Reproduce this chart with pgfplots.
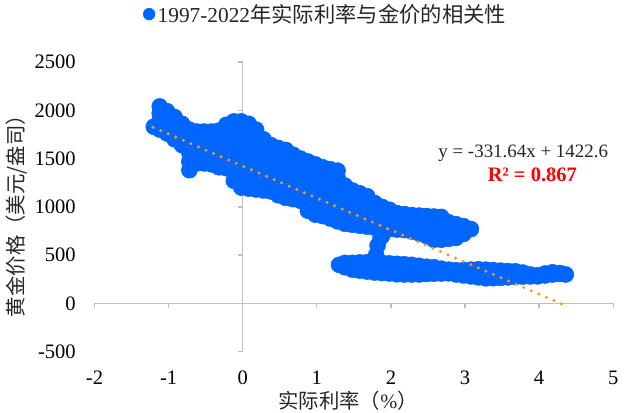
\documentclass[border=0pt]{standalone}
\usepackage{pgfplots}
\pgfplotsset{compat=1.18}
\usepackage{fontspec}
\setmainfont{Liberation Serif}
\newfontfamily\cjk{Noto Sans CJK SC}
\definecolor{ptblue}{HTML}{0066FF}
\definecolor{trendor}{HTML}{FF9900}
\definecolor{axgray}{HTML}{BFBFBF}
\definecolor{txt}{HTML}{262626}

\begin{document}
\begin{tikzpicture}
\pgfplotsset{base/.style={scale only axis, width=389pt, height=217.3pt,
  xmin=-2, xmax=5, ymin=-500, ymax=2500,
  xtick={-2,-1,0,1,2,3,4,5}, ytick={-500,0,500,1000,1500,2000,2500}}}
% middle axis lines with ticks
\begin{axis}[base, axis lines=middle, axis line style={axgray, line width=1pt, -},
  tick style={axgray, line width=1pt}, major tick length=3.75pt, tick align=outside,
  xticklabel={\relax}, yticklabel={\relax}, tick label style={text opacity=0}]
\end{axis}
% main axis with data and labels
\begin{axis}[base, axis line style={draw=none}, major tick length=0pt, clip marker paths=true,
  tick label style={font=\fontsize{15.4}{18}\selectfont, inner sep=0pt, text=black},
  /pgf/number format/assume math mode=true, /pgf/number format/1000 sep={},
  yticklabel style={xshift=-13.9pt}, xticklabel style={yshift=-14pt},
  xlabel={{\cjk 实际利率（}\%{\cjk ）}},
  ylabel={{\cjk 黄金价格（美元/盎司）}},
  xlabel style={at={(axis description cs:0.4888,-0.1357)}, anchor=north, inner sep=0pt, font=\fontsize{15.3}{18}\selectfont, text=txt},
  ylabel style={at={(axis description cs:-0.1504,0.4857)}, anchor=center, font=\fontsize{15.3}{18}\selectfont, text=txt},
  legend style={at={(axis description cs:0.4464,1.1653)}, anchor=center, draw=none, fill=none,
    font=\fontsize{16}{19}\selectfont, text=txt, inner sep=0pt},
  legend image code/.code={\draw[#1,mark size=4.4pt] plot coordinates {(0pt,0pt)};},
]
\addplot[only marks, mark=*, mark size=6pt, color=ptblue, mark options={draw=ptblue, fill=ptblue}] coordinates {
(-1.20,1830)
(-1.12,1800)(-1.12,1890)(-1.12,1970)(-1.12,2040)
(-1.02,1760)(-1.02,1840)(-1.02,1920)(-1.02,1990)
(-0.92,1700)(-0.92,1780)(-0.92,1860)(-0.92,1930)
(-0.82,1640)(-0.82,1720)(-0.82,1800)(-0.82,1860)
(-0.72,1380)(-0.72,1470)(-0.72,1560)(-0.72,1650)(-0.72,1740)(-0.72,1800)
(-0.62,1450)(-0.62,1540)(-0.62,1620)(-0.62,1700)(-0.62,1780)
(-0.52,1450)(-0.52,1540)(-0.52,1620)(-0.52,1700)(-0.52,1780)
(-0.42,1440)(-0.42,1530)(-0.42,1610)(-0.42,1700)(-0.42,1780)
(-0.32,1410)(-0.32,1500)(-0.32,1590)(-0.32,1680)(-0.32,1790)
(-0.22,1400)(-0.22,1490)(-0.22,1580)(-0.22,1670)(-0.22,1760)(-0.22,1850)
(-0.12,1270)(-0.12,1360)(-0.12,1450)(-0.12,1540)(-0.12,1630)(-0.12,1720)(-0.12,1810)(-0.12,1885)
(-0.02,1200)(-0.02,1290)(-0.02,1380)(-0.02,1470)(-0.02,1560)(-0.02,1650)(-0.02,1740)(-0.02,1820)(-0.02,1885)
(0.08,1190)(0.08,1280)(0.08,1370)(0.08,1460)(0.08,1550)(0.08,1640)(0.08,1730)(0.08,1820)(0.08,1860)
(0.18,1180)(0.18,1270)(0.18,1360)(0.18,1450)(0.18,1540)(0.18,1630)(0.18,1720)(0.18,1800)
(0.28,1170)(0.28,1260)(0.28,1350)(0.28,1440)(0.28,1530)(0.28,1620)(0.28,1700)
(0.38,1160)(0.38,1250)(0.38,1340)(0.38,1430)(0.38,1520)(0.38,1600)(0.38,1640)
(0.48,1120)(0.48,1210)(0.48,1300)(0.48,1390)(0.48,1480)(0.48,1560)(0.48,1610)
(0.58,1094)(0.58,1180)(0.58,1270)(0.58,1360)(0.58,1450)(0.58,1530)(0.58,1590)
(0.68,1080)(0.68,1170)(0.68,1260)(0.68,1350)(0.68,1440)(0.68,1540)
(0.78,1063)(0.78,1150)(0.78,1240)(0.78,1330)(0.78,1420)(0.78,1500)
(0.88,960)(0.88,1050)(0.88,1140)(0.88,1230)(0.88,1320)(0.88,1400)(0.88,1470)
(0.98,920)(0.98,1010)(0.98,1100)(0.98,1190)(0.98,1280)(0.98,1370)(0.98,1440)
(1.08,905)(1.08,990)(1.08,1080)(1.08,1170)(1.08,1260)(1.08,1340)(1.08,1410)
(1.18,880)(1.18,970)(1.18,1060)(1.18,1150)(1.18,1240)(1.18,1320)(1.18,1390)
(1.28,850)(1.28,940)(1.28,1030)(1.28,1120)(1.28,1210)(1.28,1300)(1.28,1375)
(1.38,825)(1.38,910)(1.38,1000)(1.38,1090)(1.38,1180)(1.38,1220)
(1.48,815)(1.48,900)(1.48,990)(1.48,1080)(1.48,1170)
(1.58,805)(1.58,890)(1.58,980)(1.58,1070)(1.58,1140)
(1.68,795)(1.68,880)(1.68,970)(1.68,1050)(1.68,1110)
(1.78,785)(1.78,870)(1.78,960)(1.78,1040)
(1.88,700)(1.88,775)(1.88,860)(1.88,940)(1.88,1000)
(1.98,770)(1.98,850)(1.98,930)(1.98,970)
(2.08,765)(2.08,845)(2.08,935)
(2.18,760)(2.18,840)(2.18,925)
(2.28,745)(2.28,830)(2.28,915)
(2.38,725)(2.38,810)(2.38,910)
(2.48,700)(2.48,790)(2.48,880)(2.48,905)
(2.58,660)(2.58,750)(2.58,830)(2.58,900)
(2.68,660)(2.68,750)(2.68,830)(2.68,896)
(2.78,670)(2.78,750)(2.78,840)
(2.88,680)(2.88,760)(2.88,820)
(2.98,720)(2.98,800)
(3.08,770)
(1.30,400)
(1.38,375)(1.38,420)
(1.48,350)(1.48,420)
(1.58,340)(1.58,425)
(1.68,330)(1.68,427)
(1.78,320)(1.78,410)(1.80,500)(1.82,600)(1.86,680)
(1.88,315)(1.88,420)
(1.98,310)(1.98,415)
(2.08,302)(2.08,410)
(2.18,300)(2.18,406)
(2.28,300)(2.28,400)
(2.38,300)(2.38,390)
(2.48,305)(2.48,380)
(2.58,308)(2.58,375)
(2.68,310)(2.68,360)
(2.78,312)(2.78,350)
(2.88,300)(2.88,344)
(2.98,290)(2.98,345)
(3.08,280)(3.08,350)
(3.18,270)(3.18,354)
(3.28,260)(3.28,350)
(3.38,262)(3.38,345)
(3.48,265)(3.48,340)
(3.58,270)(3.58,335)
(3.68,275)(3.68,333)
(3.78,278)(3.78,320)
(3.88,280)(3.88,300)
(3.98,281)(3.98,292)
(4.08,290)(4.08,310)
(4.18,300)(4.18,323)
(4.28,305)(4.28,315)
(4.36,300)
};
\addlegendentry{1997-2022{\cjk 年实际利率与金价的相关性}}
\addplot[forget plot, trendor, line width=2.5pt, line cap=round, dash pattern=on 0pt off 6.18pt] coordinates {(-1.21,1823.9) (4.365,-25.0)};
\node[font=\fontsize{14.2}{17}\selectfont, text=txt, anchor=west, inner sep=0pt] at (axis cs:2.637,1558) {y = -331.64x + 1422.6};
\node[font=\fontsize{15.4}{18}\selectfont\bfseries, text=red] at (axis cs:3.91,1330) {R² = 0.867};
\end{axis}
\pgfresetboundingbox
\path[use as bounding box] (-70.9pt,-45.2pt) rectangle (401.6pt,263.8pt);
\end{tikzpicture}
\end{document}
